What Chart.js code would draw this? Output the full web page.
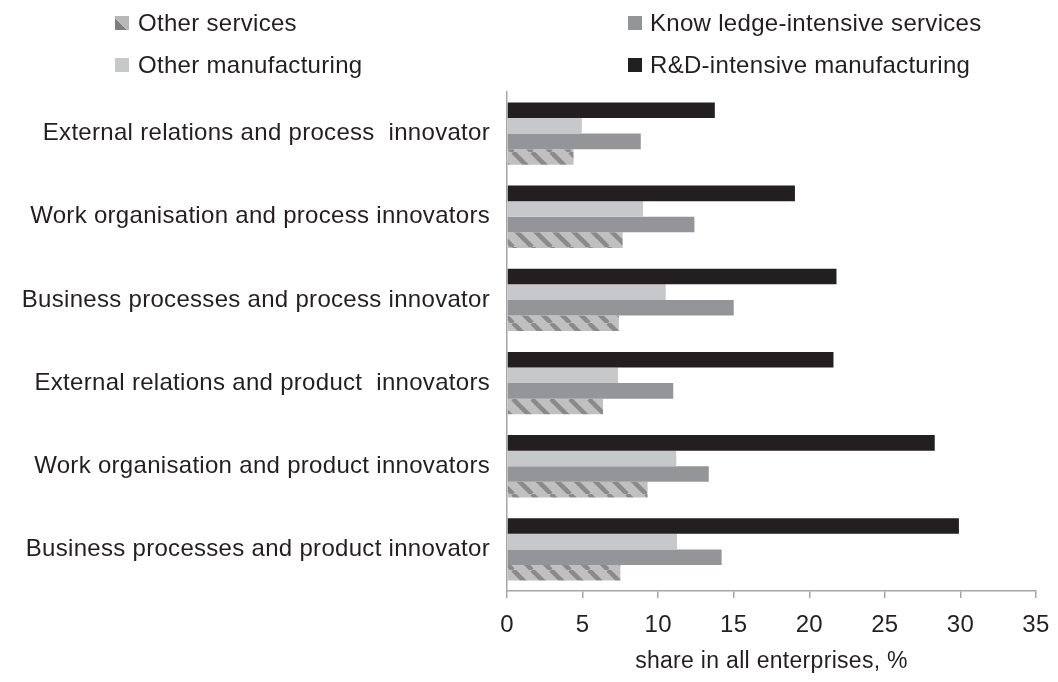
<!DOCTYPE html>
<html><head><meta charset="utf-8">
<script src="https://cdn.jsdelivr.net/npm/chart.js@4.4.1/dist/chart.umd.min.js"></script>
<style>
html,body{margin:0;padding:0;background:#fff;}
#wrap{position:relative;width:1058px;height:682px;overflow:hidden;}
canvas{position:absolute;left:0;top:0;}
.lg{position:absolute;font-family:"Liberation Sans",Arial,sans-serif;font-size:24px;color:#231f20;white-space:pre;line-height:28px;letter-spacing:0.3px;}
.mk{position:absolute;width:14px;height:14px;}
</style></head>
<body><div id="wrap"><canvas id="c" width="1058" height="682"></canvas></div>
<script>
// ---- data ----
const categories = [
  'External relations and process  innovator',
  'Work organisation and process innovators',
  'Business processes and process innovator',
  'External relations and product  innovators',
  'Work organisation and product innovators',
  'Business processes and product innovator'
];
const seriesNames = ['R&D-intensive manufacturing', 'Other manufacturing', 'Know ledge-intensive services', 'Other services'];
const rdManufacturing = [13.75, 19.05, 21.8, 21.6, 28.3, 29.9];
const otherManufacturing = [4.95, 9.0, 10.5, 7.35, 11.2, 11.25];
const knowledgeServices = [8.85, 12.4, 15.0, 11.0, 13.35, 14.2];
const otherServices = [4.4, 7.65, 7.4, 6.35, 9.3, 7.5];
const xTickValues = [0, 5, 10, 15, 20, 25, 30, 35];
const axisTitle = 'share in all enterprises, %';

// ---- styles ----
const FONT = '"Liberation Sans", Arial, sans-serif';
const TEXT = '#231f20';
const AXIS = '#a6a6a6';

function hatch() {
  const s = 19, c = document.createElement('canvas');
  c.width = s; c.height = s;
  const g = c.getContext('2d');
  g.fillStyle = '#c0c0c0'; g.fillRect(0, 0, s, s);
  g.strokeStyle = '#8a8a8a'; g.lineWidth = 4.5;
  for (const o of [-s, 0, s]) { g.beginPath(); g.moveTo(o, 0); g.lineTo(o + s, s); g.stroke(); }
  return g.createPattern(c, 'repeat');
}

const colors = ['#231f20', '#c7c8ca', '#939598', hatch()];
const values = [rdManufacturing, otherManufacturing, knowledgeServices, otherServices];

// ---- legend (HTML) ----
const legendCss = ['#231f20', '#c7c8ca', '#939598', 'linear-gradient(45deg, #7d7d7d 0 40%, #b8b8b8 40% 100%)'];
const legendPos = [ // [markerLeft, textLeft, centerY] per series
  [628, 650, 65], [115, 138, 65], [628, 650, 23], [115, 138, 23]
];
const wrap = document.getElementById('wrap');
seriesNames.forEach((n, i) => {
  const [mx, tx, cy] = legendPos[i];
  const m = document.createElement('div');
  m.className = 'mk'; m.style.left = mx + 'px'; m.style.top = (cy - 7) + 'px';
  m.style.background = legendCss[i];
  wrap.appendChild(m);
  const t = document.createElement('div');
  t.className = 'lg'; t.textContent = n; t.style.left = tx + 'px'; t.style.top = (cy - 14) + 'px';
  wrap.appendChild(t);
});

const spacing = {
  id: 'spacing',
  beforeDraw(chart) { try { chart.ctx.letterSpacing = '0.3px'; } catch (e) {} },
  afterDraw(chart) { try { chart.ctx.letterSpacing = '0px'; } catch (e) {} }
};

new Chart(document.getElementById('c'), {
  type: 'bar',
  data: {
    labels: categories,
    datasets: seriesNames.map((n, i) => ({
      label: n, data: values[i], backgroundColor: colors[i], borderWidth: 0,
      categoryPercentage: 0.75, barPercentage: 1.0
    }))
  },
  options: {
    indexAxis: 'y', responsive: false, animation: false, devicePixelRatio: 1,
    layout: { padding: { top: 92, right: 22, left: 0, bottom: 0 } },
    plugins: { legend: { display: false }, tooltip: { enabled: false } },
    scales: {
      x: {
        min: 0, max: 35,
        afterBuildTicks(s) { s.ticks = xTickValues.map(v => ({ value: v })); },
        ticks: { font: { family: FONT, size: 24 }, color: TEXT, padding: 13, maxRotation: 0 },
        grid: { drawOnChartArea: false, drawTicks: true, tickLength: 7, color: AXIS, lineWidth: 1.5 },
        border: { display: true, color: AXIS, width: 1.5 },
        title: { display: true, text: axisTitle, font: { family: FONT, size: 23 }, color: TEXT, padding: { top: 4, bottom: 7 } },
        afterFit(s) { s.height = 91; s.paddingLeft = 0; s.paddingRight = 0; }
      },
      y: {
        ticks: { font: { family: FONT, size: 24 }, color: TEXT, padding: 17 },
        grid: { display: false, drawTicks: false },
        border: { display: true, color: AXIS, width: 1.5 },
        afterFit(s) { s.width = 507; }
      }
    }
  },
  plugins: [spacing]
});
</script>
</body></html>
